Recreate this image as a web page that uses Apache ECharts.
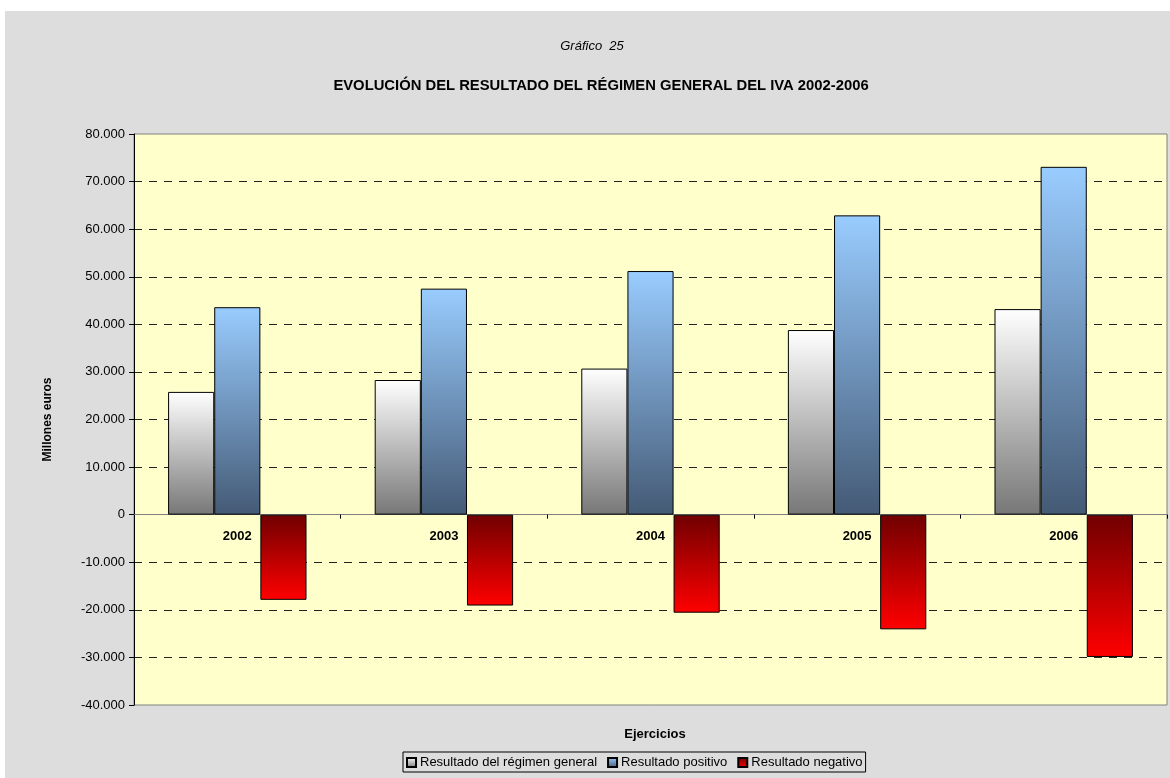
<!DOCTYPE html>
<html>
<head>
<meta charset="utf-8">
<title>Gráfico 25</title>
<script src="https://cdn.jsdelivr.net/npm/echarts@6/dist/echarts.min.js"></script>
<style type="text/css">
	body{
		margin: 0;
		background: #FFFFFF;
	}
	div#chart{
		position: absolute;
		left: 5px;
		top: 11px;
		width: 1165px;
		height: 767px;
		background: #DDDDDD;
	}
</style>
</head>
<body>
<div id="chart"></div>
<script type="text/javascript">
var years = ['2002', '2003', '2004', '2005', '2006'];
var general = [25800, 28300, 30700, 38800, 43200];   // Resultado del régimen general
var positivo = [43600, 47500, 51200, 62900, 73100];  // Resultado positivo
var negativo = [-17900, -19100, -20600, -24100, -29900]; // Resultado negativo
var seriesNames = ['Resultado del régimen general', 'Resultado positivo', 'Resultado negativo'];
var yMin = -40000, yMax = 80000, yStep = 10000;

var font = '"Liberation Sans", Arial, sans-serif';
var gridTop = 123, gridBottom = 73, chartH = 767;

function miles(v)
{
	var s = Math.abs(v).toString();
	s = s.replace(/\B(?=(\d{3})+(?!\d))/g, '.');
	return (v < 0 ? '-' : '') + s;
}

function grad(top, bottom)
{
	return new echarts.graphic.LinearGradient(0, 0, 0, 1, [
		{offset: 0, color: top},
		{offset: 1, color: bottom}
	]);
}

// etiquetas de años justo debajo de la línea del cero
var plotH = chartH - gridTop - gridBottom;
var zeroOffset = -plotH * (0 - yMin) / (yMax - yMin);

var myChart = echarts.init(document.getElementById('chart'));
var option = {
	animation: false,
	textStyle: {fontFamily: font},
	title: [
		{
			text: 'Gráfico  25',
			left: 582,
			textAlign: 'center',
			top: 24,
			textStyle: {fontSize: 13, fontStyle: 'italic', fontWeight: 'normal', color: '#000'}
		},
		{
			text: 'EVOLUCIÓN DEL RESULTADO DEL RÉGIMEN GENERAL DEL IVA 2002-2006',
			left: 591,
			textAlign: 'center',
			top: 62,
			textStyle: {fontSize: 14.8, fontWeight: 'bold', color: '#000'}
		},
		{
			text: 'Ejercicios',
			left: 645,
			textAlign: 'center',
			top: 712,
			textStyle: {fontSize: 13, fontWeight: 'bold', color: '#000'}
		}
	],
	legend: {
		bottom: 6,
		left: 398,
		data: seriesNames,
		icon: 'rect',
		itemWidth: 9,
		itemHeight: 9,
		itemGap: 10,
		padding: [4, 3, 3, 3],
		borderColor: '#000',
		borderWidth: 1,
		textStyle: {fontSize: 13, color: '#000', padding: [0, 0, 0, -1]}
	},
	grid: {
		show: true,
		left: 129,
		top: gridTop,
		right: 3,
		bottom: gridBottom,
		backgroundColor: '#FFFFCC',
		borderColor: '#808080',
		borderWidth: 1
	},
	xAxis: [
		{
			type: 'category',
			data: years,
			axisLine: {onZero: true, lineStyle: {color: '#808080', width: 1}},
			axisTick: {show: true, inside: false, length: 4, lineStyle: {color: '#000'}},
			axisLabel: {show: false},
			splitLine: {show: false}
		},
		{
			type: 'category',
			data: years,
			position: 'bottom',
			offset: zeroOffset,
			axisLine: {show: false},
			axisTick: {show: false},
			axisLabel: {margin: 15, fontSize: 13, fontWeight: 'bold', color: '#000'},
			splitLine: {show: false}
		}
	],
	yAxis: {
		type: 'value',
		min: yMin,
		max: yMax,
		interval: yStep,
		name: 'Millones euros',
		nameLocation: 'middle',
		nameGap: 80,
		nameTextStyle: {fontSize: 12, fontWeight: 'bold', color: '#000'},
		axisLine: {show: true, lineStyle: {color: '#000'}},
		axisTick: {show: true, inside: false, length: 5, lineStyle: {color: '#000'}},
		axisLabel: {margin: 9, fontSize: 13, color: '#000', formatter: miles},
		splitLine: {
			show: true,
			showMinLine: false,
			showMaxLine: false,
			lineStyle: {color: '#222', type: [8, 7], width: 1}
		}
	},
	series: [
		{
			name: seriesNames[0],
			type: 'bar',
			data: general,
			barGap: '0%',
			barCategoryGap: '33%',
			itemStyle: {color: grad('#FFFFFF', '#777777'), borderColor: '#000', borderWidth: 1}
		},
		{
			name: seriesNames[1],
			type: 'bar',
			data: positivo,
			barGap: '0%',
			barCategoryGap: '33%',
			itemStyle: {color: grad('#99CCFF', '#445A75'), borderColor: '#000', borderWidth: 1}
		},
		{
			name: seriesNames[2],
			type: 'bar',
			data: negativo,
			barGap: '0%',
			barCategoryGap: '33%',
			itemStyle: {color: grad('#700000', '#FF0000'), borderColor: '#000', borderWidth: 1}
		}
	]
};
myChart.setOption(option);
</script>
</body>
</html>
